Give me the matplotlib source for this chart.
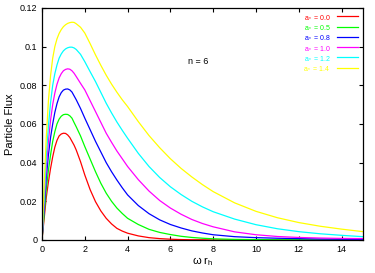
import numpy as np
import matplotlib
matplotlib.use('Agg')
import matplotlib.pyplot as plt

plt.rcParams['font.family'] = ['Liberation Sans', 'DejaVu Sans']
plt.rcParams['mathtext.fontset'] = 'custom'
plt.rcParams['mathtext.rm'] = 'Liberation Sans'
plt.rcParams['mathtext.it'] = 'Liberation Sans'

# omega * r_h
w = [0, 0.1, 0.2, 0.3, 0.4, 0.5, 0.6, 0.7, 0.8, 0.9, 1.0, 1.1, 1.2, 1.3, 1.4, 1.5, 1.6,
     1.8, 2.0, 2.25, 2.5, 2.75, 3, 3.25, 3.5, 3.75, 4, 4.5, 5, 5.5, 6, 6.5, 7, 7.5, 8,
     9, 10, 11, 12, 13, 14, 15]

flux_00 = [0, 0.011, 0.022, 0.030, 0.037, 0.043, 0.048, 0.0515, 0.0538, 0.0548, 0.0552,
           0.0551, 0.0543, 0.0530, 0.051, 0.049, 0.0465, 0.0405, 0.0336, 0.026, 0.0198,
           0.015, 0.0112, 0.0083, 0.006, 0.0046, 0.0035, 0.0021, 0.0012, 0.0007, 0.0004,
           0.0002, 0.0001, 0.0001, 0, 0, 0, 0, 0, 0, 0, 0]
flux_05 = [0, 0.013, 0.026, 0.036, 0.044, 0.051, 0.056, 0.060, 0.0625, 0.064, 0.0648,
           0.065, 0.0649, 0.0642, 0.063, 0.0607, 0.0585, 0.0538, 0.0483, 0.0418, 0.0353,
           0.0293, 0.0242, 0.020, 0.0165, 0.0137, 0.0112, 0.008, 0.0055, 0.0039, 0.0028,
           0.0019, 0.0013, 0.0009, 0.0006, 0.0003, 0.0002, 0.0001, 0.0001, 0, 0, 0]
flux_08 = [0, 0.016, 0.032, 0.044, 0.053, 0.060, 0.066, 0.0705, 0.074, 0.0762, 0.0775,
           0.078, 0.0781, 0.0776, 0.0765, 0.0745, 0.0725, 0.068, 0.063, 0.057, 0.051,
           0.0455, 0.040, 0.0353, 0.031, 0.027, 0.0233, 0.0178, 0.0136, 0.0104, 0.008,
           0.0062, 0.0047, 0.0036, 0.0027, 0.0017, 0.0012, 0.0009, 0.0007, 0.0005,
           0.0004, 0.0003]
flux_10 = [0, 0.019, 0.037, 0.051, 0.062, 0.070, 0.076, 0.0805, 0.0838, 0.086, 0.0875,
           0.0882, 0.0885, 0.0883, 0.0875, 0.0862, 0.0845, 0.081, 0.0776, 0.072, 0.0664,
           0.0608, 0.0552, 0.0505, 0.046, 0.042, 0.038, 0.0312, 0.0253, 0.0204, 0.0165,
           0.0133, 0.0106, 0.0085, 0.0068, 0.0042, 0.0027, 0.0018, 0.0013, 0.001, 0.0008,
           0.0007]
flux_12 = [0, 0.022, 0.043, 0.059, 0.071, 0.080, 0.086, 0.0905, 0.094, 0.0962, 0.0978,
           0.0988, 0.0994, 0.0997, 0.0997, 0.0993, 0.0985, 0.096, 0.0922, 0.087, 0.0819,
           0.0763, 0.0707, 0.0657, 0.061, 0.0567, 0.0526, 0.0448, 0.038, 0.0323, 0.0275,
           0.0235, 0.020, 0.0171, 0.0146, 0.0108, 0.0079, 0.0058, 0.0043, 0.0032,
           0.0024, 0.0017]
flux_14 = [0, 0.028, 0.053, 0.072, 0.085, 0.094, 0.100, 0.104, 0.1068, 0.1088, 0.1103,
           0.1113, 0.112, 0.1124, 0.1126, 0.1125, 0.1118, 0.110, 0.107, 0.1015, 0.0957,
           0.0903, 0.0852, 0.0806, 0.0764, 0.0725, 0.069, 0.0612, 0.054, 0.0477, 0.042,
           0.037, 0.0326, 0.0286, 0.025, 0.0192, 0.0148, 0.0115, 0.009, 0.0071, 0.0056,
           0.0043]

labels = ['0.0', '0.5', '0.8', '1.0', '1.2', '1.4']
colors = ['#ff0000', '#00ff00', '#0000ff', '#ff00ff', '#00ffff', '#ffff00']
series = [flux_00, flux_05, flux_08, flux_10, flux_12, flux_14]

fig = plt.figure(figsize=(3.75, 2.73), dpi=100)
ax = fig.add_axes([0.112, 0.121, 0.856, 0.850])

for ys, lab, c in zip(series, labels, colors):
    ax.plot(w, ys, color=c, lw=0.9, label=r'a$_*$ = ' + lab)

ax.set_xlim(0, 15)
ax.set_ylim(0, 0.12)
ax.set_xticks(np.arange(0, 15, 2))
ax.set_yticks([0, 0.02, 0.04, 0.06, 0.08, 0.1, 0.12])
ax.set_yticklabels(['0', '0.02', '0.04', '0.06', '0.08', '0.1', '0.12'])
ax.tick_params(direction='in', top=True, right=True, labelsize=6.5, length=3, width=0.8)
for s in ax.spines.values():
    s.set_linewidth(0.9)

ax.set_xlabel(r'ω r$_\mathregular{h}$', fontsize=8, labelpad=1)
ax.set_ylabel('Particle Flux', fontsize=8, labelpad=3)
ax.text(6.8, 0.091, 'n = 6', fontsize=6.5)

leg = ax.legend(loc='upper right', frameon=False, fontsize=5, markerfirst=False,
                labelcolor='linecolor', handlelength=3.0, handletextpad=0.9,
                labelspacing=0.35, borderaxespad=0.35)

fig.savefig('out.png', dpi=100)
